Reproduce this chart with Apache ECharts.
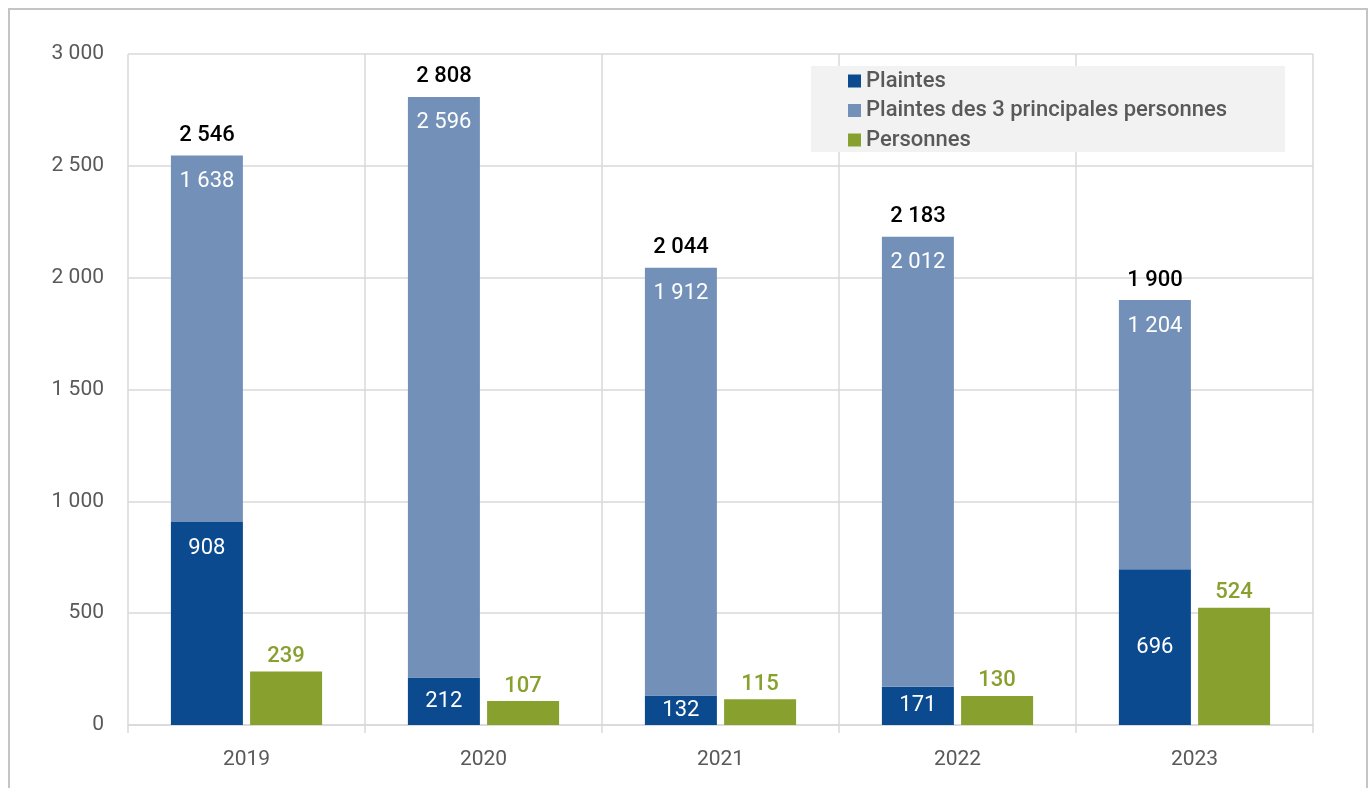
<!DOCTYPE html>
<html>
<head>
<meta charset="utf-8">
<script src="https://cdn.jsdelivr.net/npm/echarts@6/dist/echarts.min.js"></script>
<style>
  html, body { margin: 0; padding: 0; background: #fff; }
  #chart { width: 1372px; height: 788px; }
</style>
</head>
<body>
<div id="chart"></div>
<script>
// Yearly counts
const categories = ['2019', '2020', '2021', '2022', '2023'];
const plaintes = [908, 212, 132, 171, 696];
const plaintesTop3 = [1638, 2596, 1912, 2012, 1204];
const personnes = [239, 107, 115, 130, 524];
const yTicks = [0, 500, 1000, 1500, 2000, 2500, 3000];

const seriesNames = ['Plaintes', 'Plaintes des 3 principales personnes', 'Personnes'];
const colors = { dark: '#0B4A8F', light: '#7391B8', green: '#87A02E' };

// Stack total (dark + light), shown above each stacked bar
const totals = plaintes.map((v, i) => v + plaintesTop3[i]);

const fmt = v => String(v).replace(/\B(?=(\d{3})+(?!\d))/g, ' ');
const FONT = 'Roboto';

const chart = echarts.init(document.getElementById('chart'), null, { renderer: 'canvas' });

const valueLabel = {
  show: true,
  color: '#fff',
  fontFamily: FONT,
  fontSize: 22,
  formatter: p => fmt(p.value)
};

chart.setOption({
  animation: false,
  textStyle: { fontFamily: FONT },
  grid: { left: 128, right: 59, top: 54, bottom: 63 },
  graphic: [
    {
      type: 'rect', z: 0, silent: true,
      shape: { x: 9, y: 9, width: 1358, height: 800 },
      style: { fill: 'none', stroke: '#c4c4c4', lineWidth: 2 }
    },
    {
      type: 'rect', z: 3, silent: true,
      shape: { x: 811, y: 66, width: 474, height: 86 },
      style: { fill: '#f2f2f2' }
    }
  ],
  legend: {
    data: seriesNames,
    orient: 'vertical',
    left: 843,
    top: 65,
    z: 5,
    itemWidth: 13,
    itemHeight: 13,
    itemGap: 7.5,
    icon: 'rect',
    textStyle: { color: '#595959', fontSize: 22, lineHeight: 22, fontWeight: 500, fontFamily: FONT }
  },
  xAxis: {
    type: 'category',
    data: categories,
    axisLine: { show: true, lineStyle: { color: '#d9d9d9', width: 1.5 } },
    axisTick: { show: true, length: 8, lineStyle: { color: '#d9d9d9', width: 1.5 } },
    splitLine: { show: true, lineStyle: { color: '#d9d9d9', width: 1.5 } },
    axisLabel: { color: '#595959', fontSize: 21, margin: 24, fontFamily: FONT }
  },
  yAxis: {
    type: 'value',
    min: yTicks[0],
    max: yTicks[yTicks.length - 1],
    interval: yTicks[1] - yTicks[0],
    axisLine: { show: false },
    axisTick: { show: false },
    splitLine: { lineStyle: { color: '#d9d9d9', width: 1.5 } },
    axisLabel: { color: '#595959', fontSize: 21, margin: 24, fontFamily: FONT, formatter: v => fmt(v) }
  },
  series: [
    {
      name: seriesNames[0],
      type: 'bar',
      stack: 'plaintes',
      barWidth: 72,
      barGap: '10%',
      itemStyle: { color: colors.dark },
      label: Object.assign({}, valueLabel, { position: 'inside' }),
      data: plaintes.map(v => v > 800
        ? { value: v, label: { position: 'insideTop', distance: 16 } }
        : v)
    },
    {
      name: seriesNames[1],
      type: 'bar',
      stack: 'plaintes',
      barWidth: 72,
      itemStyle: { color: colors.light },
      label: Object.assign({}, valueLabel, { position: 'insideTop', distance: 15 }),
      data: plaintesTop3
    },
    {
      name: 'total',
      type: 'bar',
      stack: 'plaintes',
      barWidth: 72,
      itemStyle: { color: 'transparent' },
      label: {
        show: true,
        position: 'top',
        distance: 9,
        color: '#000',
        fontSize: 22,
        fontWeight: 500,
        fontFamily: FONT,
        formatter: p => fmt(totals[p.dataIndex])
      },
      data: categories.map(() => 0)
    },
    {
      name: seriesNames[2],
      type: 'bar',
      barWidth: 72,
      barGap: '10%',
      itemStyle: { color: colors.green },
      label: {
        show: true,
        position: 'top',
        distance: 4,
        color: colors.green,
        fontSize: 22,
        fontWeight: 500,
        fontFamily: FONT,
        formatter: p => fmt(p.value)
      },
      data: personnes
    }
  ]
});
</script>
</body>
</html>
